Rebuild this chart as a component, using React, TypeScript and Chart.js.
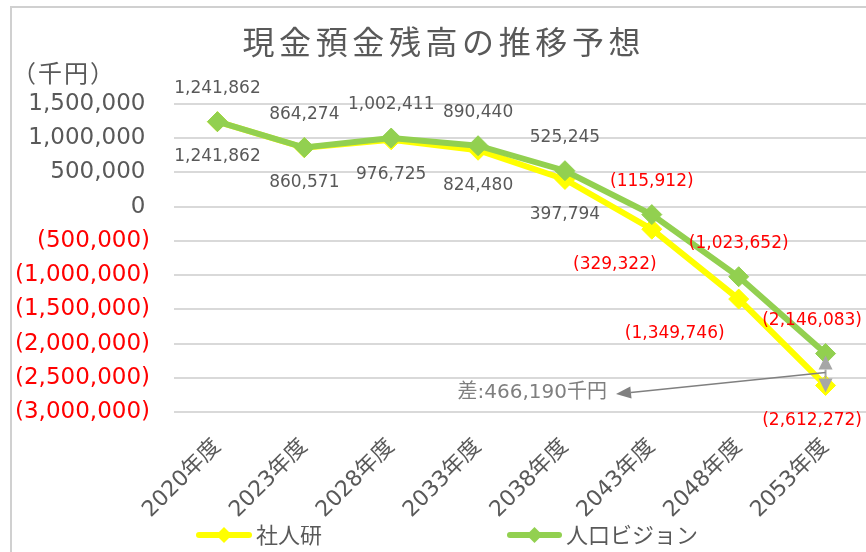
import React, { useEffect, useRef } from "react";
import { Chart, registerables } from "chart.js";

Chart.register(...registerables);

const CATEGORIES = ["2020年度", "2023年度", "2028年度", "2033年度", "2038年度", "2043年度", "2048年度", "2053年度"];
const SHAJINKEN = [1241862, 860571, 976725, 824480, 397794, -329322, -1349746, -2612272];
const VISION = [1241862, 864274, 1002411, 890440, 525245, -115912, -1023652, -2146083];
const Y_TICKS = [1500000, 1000000, 500000, 0, -500000, -1000000, -1500000, -2000000, -2500000, -3000000];
const SERIES_NAMES = ["社人研", "人口ビジョン"];
const TITLE = "現金預金残高の推移予想";
const UNIT = "（千円）";
const DIFF_LABEL = "差:466,190千円";

// label placement tweaks (pixels, not data)
const YELLOW_LABEL_DX = [0, 0, 0, 0, 0, -37, -64, 0];

const FONT = '"DejaVu Sans", "Noto Sans CJK JP", sans-serif';
const CJK = '"Noto Sans CJK JP", "DejaVu Sans", sans-serif';
const GRAY_TEXT = "#595959";
const RED = "#FF0000";
const YELLOW = "#FFFF00";
const GREEN = "#92D050";

const W = 880;
const H = 552;

function fmt(v: number): string {
  const s = Math.abs(v).toLocaleString("en-US");
  return v < 0 ? `(${s})` : s;
}

export default function App() {
  const ref = useRef<HTMLCanvasElement>(null);

  useEffect(() => {
    document.body.style.margin = "0";
    const canvas = ref.current!;

    const custom = {
      id: "custom",
      beforeDraw(chart: any) {
        const ctx = chart.ctx as CanvasRenderingContext2D;
        ctx.save();
        ctx.fillStyle = "#ffffff";
        ctx.fillRect(0, 0, chart.width, chart.height);
        ctx.strokeStyle = "#d0d0d0";
        ctx.lineWidth = 2;
        ctx.beginPath();
        ctx.moveTo(11, H + 10);
        ctx.lineTo(11, 7);
        ctx.lineTo(W + 10, 7);
        ctx.stroke();
        ctx.restore();
      },
      afterDatasetsDraw(chart: any) {
        const ctx = chart.ctx as CanvasRenderingContext2D;
        const m0 = chart.getDatasetMeta(0);
        const m1 = chart.getDatasetMeta(1);
        const last = CATEGORIES.length - 1;
        const px = m1.data[last].x;
        const yTop = m1.data[last].y;
        const yBot = m0.data[last].y;
        ctx.save();
        // vertical double arrow
        const tipTop = yTop + 2;
        const baseTop = tipTop + 14;
        const tipBot = yBot + 7;
        const baseBot = tipBot - 14;
        ctx.fillStyle = "#a6a6a6";
        ctx.strokeStyle = "#a6a6a6";
        ctx.lineWidth = 2;
        ctx.beginPath();
        ctx.moveTo(px, baseTop);
        ctx.lineTo(px, baseBot);
        ctx.stroke();
        ctx.beginPath();
        ctx.moveTo(px, tipTop);
        ctx.lineTo(px - 7, baseTop);
        ctx.lineTo(px + 7, baseTop);
        ctx.closePath();
        ctx.fill();
        ctx.beginPath();
        ctx.moveTo(px, tipBot);
        ctx.lineTo(px - 7, baseBot);
        ctx.lineTo(px + 7, baseBot);
        ctx.closePath();
        ctx.fill();

        // leader line to the difference label
        const sx = px;
        const sy = (yTop + yBot) / 2 + 3;
        const textRight = 607;
        const textY = 393;
        const tipX = textRight + 9;
        const tipY = textY + 1;
        const ang = Math.atan2(tipY - sy, tipX - sx);
        const hl = 15;
        const hw = 6;
        const bx = tipX - Math.cos(ang) * hl;
        const by = tipY - Math.sin(ang) * hl;
        ctx.strokeStyle = "#808080";
        ctx.fillStyle = "#808080";
        ctx.lineWidth = 1.6;
        ctx.beginPath();
        ctx.moveTo(sx, sy);
        ctx.lineTo(bx, by);
        ctx.stroke();
        ctx.beginPath();
        ctx.moveTo(tipX, tipY);
        ctx.lineTo(bx - Math.sin(ang) * hw, by + Math.cos(ang) * hw);
        ctx.lineTo(bx + Math.sin(ang) * hw, by - Math.cos(ang) * hw);
        ctx.closePath();
        ctx.fill();

        ctx.font = `20px ${FONT}`;
        ctx.fillStyle = "#7f7f7f";
        ctx.textAlign = "right";
        ctx.textBaseline = "middle";
        ctx.fillText(DIFF_LABEL, textRight, textY);
        ctx.restore();
      },
      afterDraw(chart: any) {
        const ctx = chart.ctx as CanvasRenderingContext2D;
        const m0 = chart.getDatasetMeta(0);
        const m1 = chart.getDatasetMeta(1);
        ctx.save();
        ctx.font = `17px ${FONT}`;
        ctx.textAlign = "center";
        ctx.textBaseline = "middle";
        const clampX = (x: number, text: string) => {
          const half = ctx.measureText(text).width / 2;
          return Math.min(x, 862 - half);
        };
        VISION.forEach((v, j) => {
          const p = m1.data[j];
          const t = fmt(v);
          ctx.fillStyle = v < 0 ? RED : GRAY_TEXT;
          ctx.fillText(t, clampX(p.x, t), p.y - 33);
        });
        SHAJINKEN.forEach((v, j) => {
          const p = m0.data[j];
          const t = fmt(v);
          ctx.fillStyle = v < 0 ? RED : GRAY_TEXT;
          ctx.fillText(t, clampX(p.x + YELLOW_LABEL_DX[j], t), p.y + 35);
        });

        // title
        ctx.font = `32px ${CJK}`;
        const spacing = 4.6;
        (ctx as any).letterSpacing = `${spacing}px`;
        ctx.fillStyle = GRAY_TEXT;
        ctx.textAlign = "left";
        const tw = ctx.measureText(TITLE).width - spacing;
        ctx.fillText(TITLE, 441.5 - tw / 2, 42);

        // unit
        ctx.font = `24px ${CJK}`;
        (ctx as any).letterSpacing = "2px";
        ctx.fillText(UNIT, 12, 73);
        (ctx as any).letterSpacing = "0px";

        // legend
        const items = [
          { name: SERIES_NAMES[0], color: YELLOW, x0: 196, x1: 252, tx: 256 },
          { name: SERIES_NAMES[1], color: GREEN, x0: 507, x1: 562, tx: 566 },
        ];
        const ly = 535;
        ctx.font = `22px ${CJK}`;
        items.forEach((it) => {
          ctx.strokeStyle = it.color;
          ctx.fillStyle = it.color;
          ctx.lineWidth = 6;
          ctx.lineCap = "round";
          ctx.beginPath();
          ctx.moveTo(it.x0 + 3, ly);
          ctx.lineTo(it.x1 - 3, ly);
          ctx.stroke();
          const cx = (it.x0 + it.x1) / 2;
          const r = 8;
          ctx.beginPath();
          ctx.moveTo(cx, ly - r);
          ctx.lineTo(cx + r, ly);
          ctx.lineTo(cx, ly + r);
          ctx.lineTo(cx - r, ly);
          ctx.closePath();
          ctx.fill();
          ctx.fillStyle = GRAY_TEXT;
          ctx.textAlign = "left";
          ctx.textBaseline = "middle";
          ctx.fillText(it.name, it.tx, ly);
        });
        ctx.restore();
      },
    };

    const chart = new Chart(canvas, {
      type: "line",
      data: {
        labels: CATEGORIES,
        datasets: [
          {
            label: SERIES_NAMES[0],
            data: SHAJINKEN,
            borderColor: YELLOW,
            backgroundColor: YELLOW,
            borderWidth: 6,
            pointStyle: "rectRot",
            pointRadius: 10,
            pointBorderWidth: 1,
            pointBorderColor: YELLOW,
            pointBackgroundColor: YELLOW,
            tension: 0,
            order: 2,
          },
          {
            label: SERIES_NAMES[1],
            data: VISION,
            borderColor: GREEN,
            backgroundColor: GREEN,
            borderWidth: 6,
            pointStyle: "rectRot",
            pointRadius: 10,
            pointBorderWidth: 1,
            pointBorderColor: GREEN,
            pointBackgroundColor: GREEN,
            tension: 0,
            order: 1,
          },
        ],
      },
      options: {
        responsive: false,
        animation: false,
        events: [],
        layout: { padding: { left: 0, top: 104, right: 10, bottom: 0 } },
        plugins: {
          legend: { display: false },
          title: { display: false },
          tooltip: { enabled: false },
        },
        scales: {
          x: {
            type: "category",
            offset: true,
            grid: { display: false },
            border: { display: false },
            ticks: {
              autoSkip: false,
              maxRotation: 45,
              minRotation: 45,
              padding: 14,
              color: GRAY_TEXT,
              font: { family: FONT, size: 22 },
            },
            afterFit: (s: any) => {
              s.height = H - 412;
            },
          },
          y: {
            type: "linear",
            min: -3000000,
            max: 1500000,
            afterBuildTicks: (s: any) => {
              s.ticks = Y_TICKS.map((v) => ({ value: v }));
            },
            grid: { color: "#d9d9d9", lineWidth: 2, drawTicks: false },
            border: { display: false },
            ticks: {
              padding: 24,
              color: (c: any) => (c.tick && c.tick.value < 0 ? RED : GRAY_TEXT),
              font: { family: FONT, size: 23 },
              callback: (v: any) => (Number(v) < 0 ? fmt(Number(v)) : fmt(Number(v)) + "\u2009"),
            },
            afterFit: (s: any) => {
              s.width = 174;
            },
          },
        },
      },
      plugins: [custom],
    } as any);

    return () => chart.destroy();
  }, []);

  return (
    <div style={{ position: "fixed", left: 0, top: 0, width: 866, height: 552, overflow: "hidden", background: "#fff" }}>
      <canvas ref={ref} width={W} height={H} style={{ width: W, height: H, display: "block" }} />
    </div>
  );
}
